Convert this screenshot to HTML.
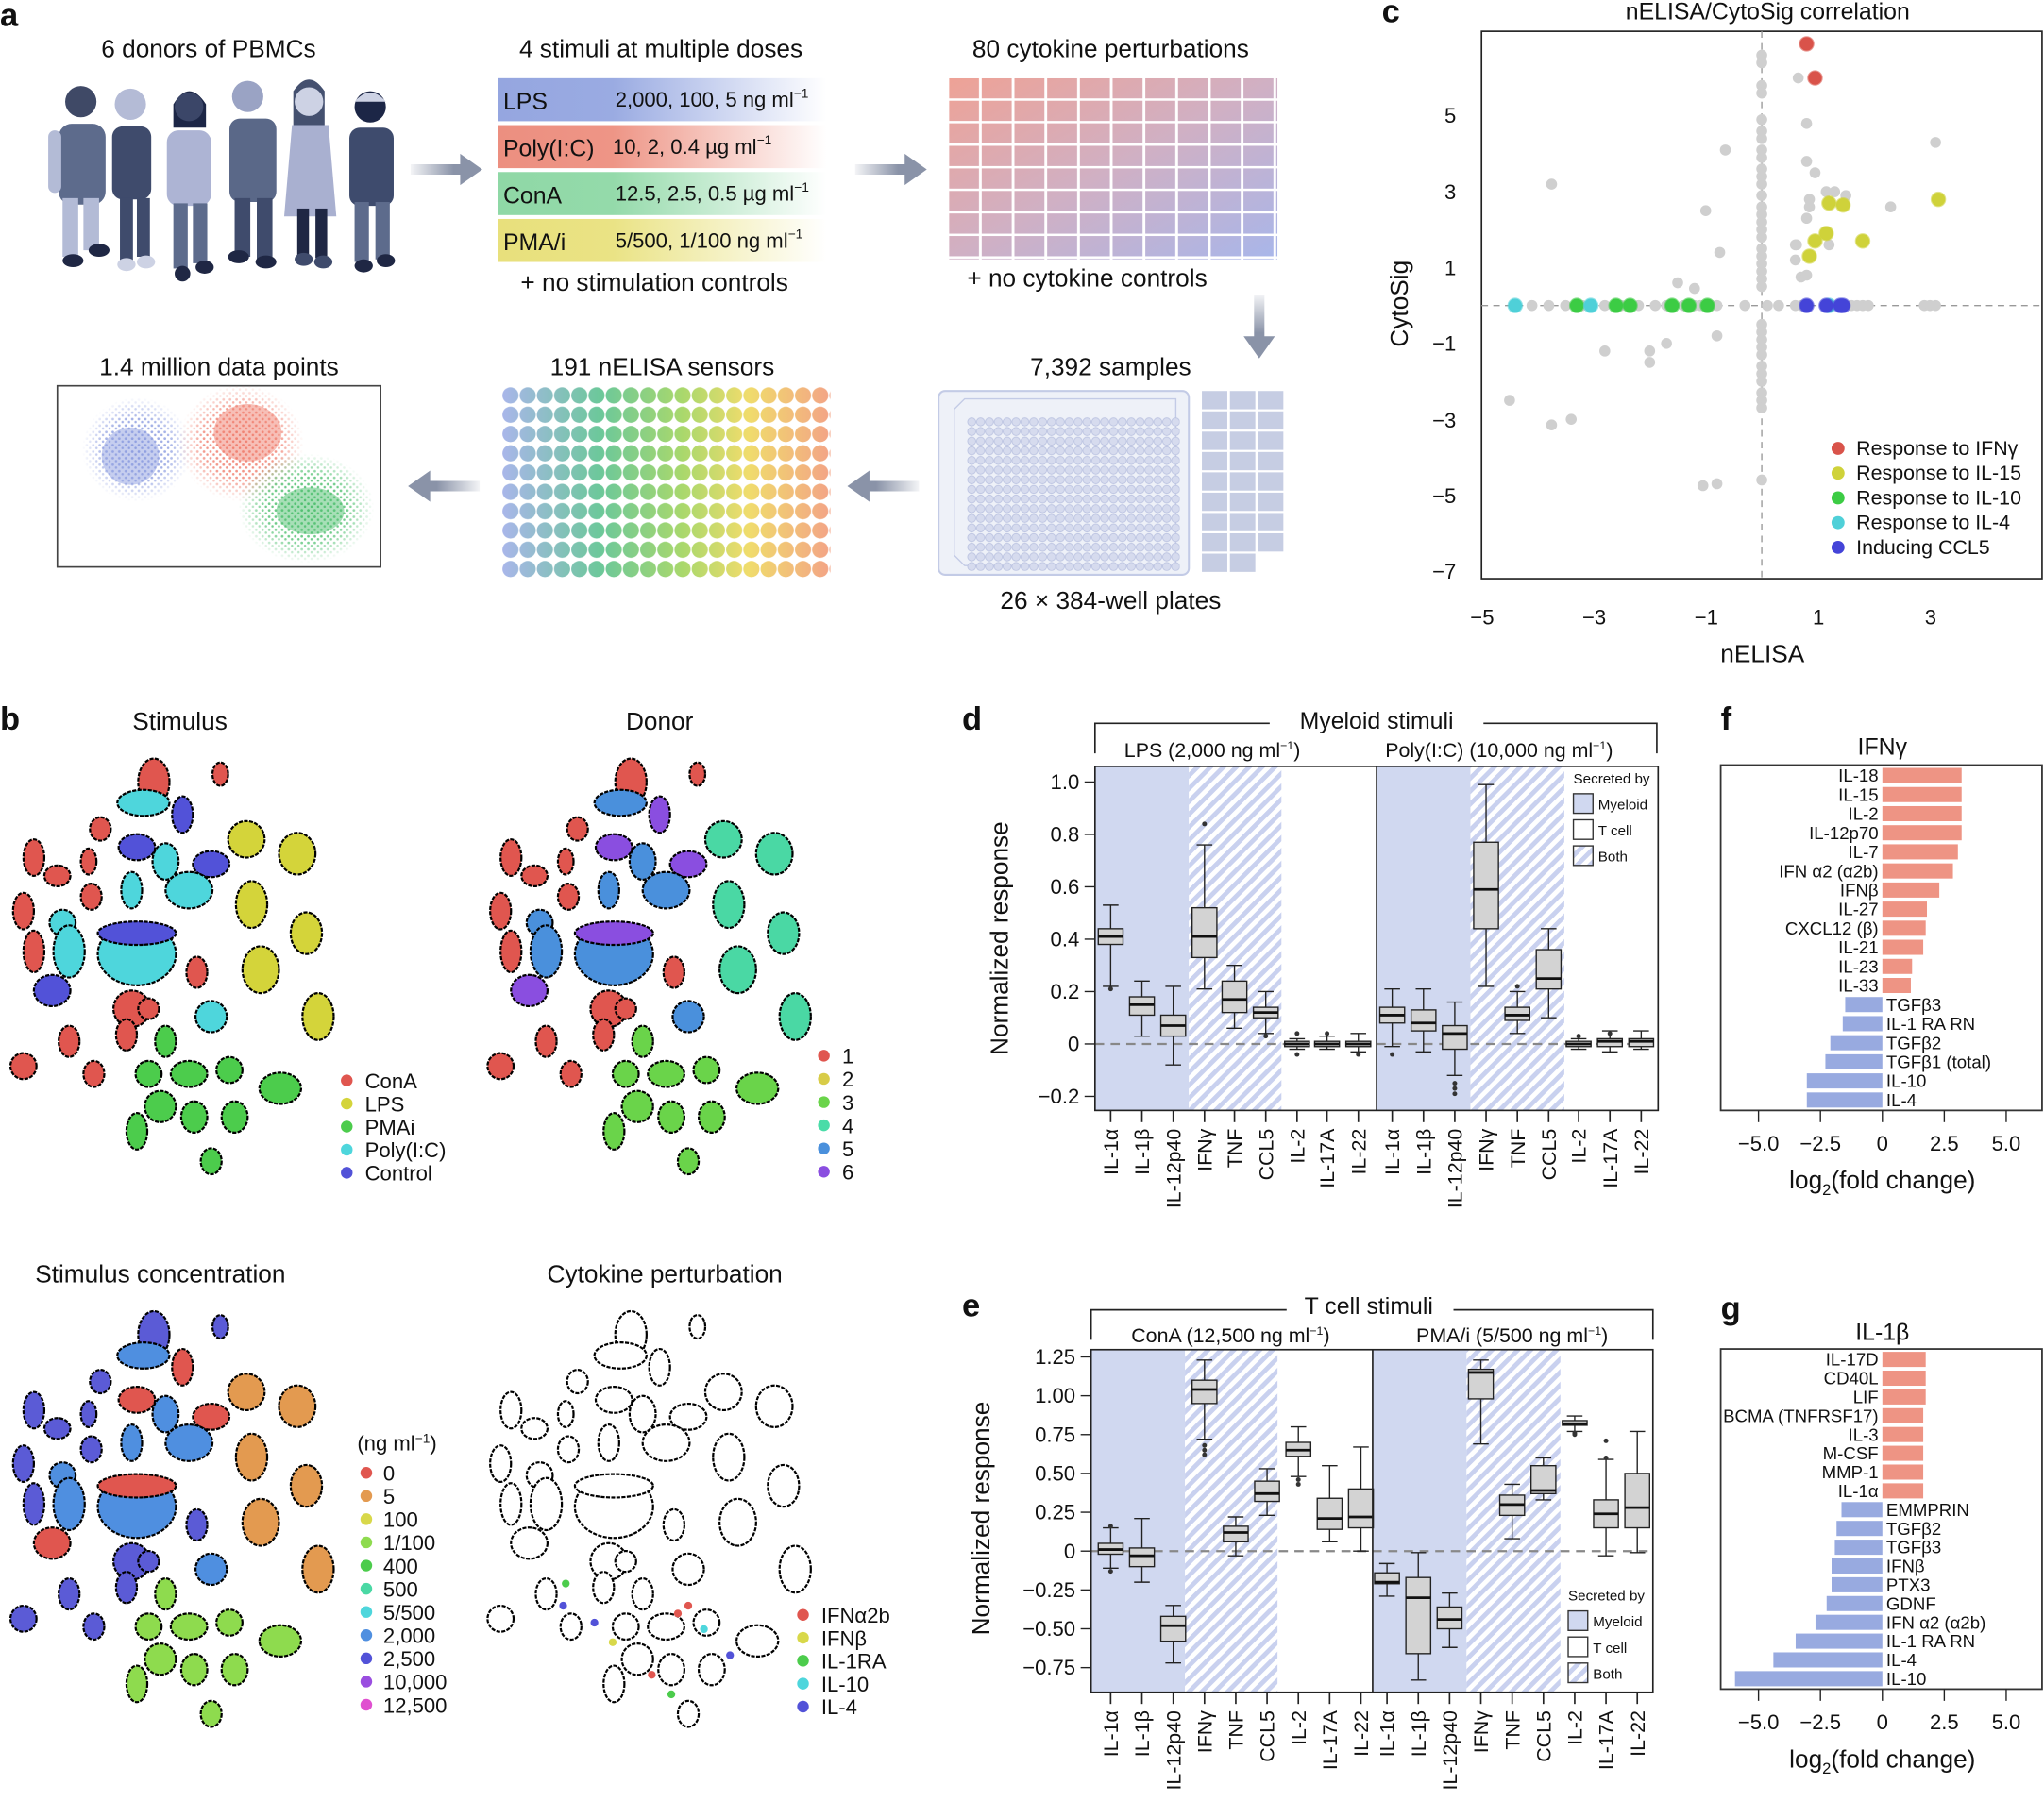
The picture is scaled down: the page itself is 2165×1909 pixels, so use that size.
<!DOCTYPE html>
<html><head><meta charset="utf-8"><style>
html,body{margin:0;padding:0;background:#fff}
svg{display:block}
text{font-family:"Liberation Sans",sans-serif;fill:#111}
</style></head><body>
<svg id="s" width="2165" height="1909" viewBox="0 0 1568 1382.6" preserveAspectRatio="none" xmlns="http://www.w3.org/2000/svg">
<defs>
<pattern id="hatch" patternUnits="userSpaceOnUse" width="7" height="7" patternTransform="rotate(45)">
<rect width="7" height="7" fill="#fff"/><rect width="3.5" height="7" fill="#c9d1ef"/></pattern>
<linearGradient id="gLPS" x1="0" x2="1"><stop offset="0" stop-color="#95a6e0"/><stop offset="0.35" stop-color="#9aabe2"/><stop offset="1" stop-color="#fff"/></linearGradient>
<linearGradient id="gPoly" x1="0" x2="1"><stop offset="0" stop-color="#ec8f80"/><stop offset="0.35" stop-color="#ee9586"/><stop offset="1" stop-color="#fff"/></linearGradient>
<linearGradient id="gCon" x1="0" x2="1"><stop offset="0" stop-color="#8fd8a6"/><stop offset="0.35" stop-color="#94daaa"/><stop offset="1" stop-color="#fff"/></linearGradient>
<linearGradient id="gPMA" x1="0" x2="1"><stop offset="0" stop-color="#e8e07c"/><stop offset="0.35" stop-color="#eae385"/><stop offset="1" stop-color="#fff"/></linearGradient>
<linearGradient id="gCyt" x1="0" y1="0" x2="1" y2="1"><stop offset="0" stop-color="#eea296"/><stop offset="0.5" stop-color="#d0b0c4"/><stop offset="1" stop-color="#a8b6ea"/></linearGradient>
<linearGradient id="gSens" x1="0" x2="1"><stop offset="0" stop-color="#a9b6ea"/><stop offset="0.3" stop-color="#6cc89a"/><stop offset="0.55" stop-color="#a9d86c"/><stop offset="0.75" stop-color="#f0dc6c"/><stop offset="1" stop-color="#f3a486"/></linearGradient>
<linearGradient id="gArrR" x1="0" x2="1"><stop offset="0" stop-color="#8a93a8" stop-opacity="0.1"/><stop offset="0.6" stop-color="#8a93a8"/></linearGradient>
<linearGradient id="gArrL" x1="1" x2="0"><stop offset="0" stop-color="#8a93a8" stop-opacity="0.1"/><stop offset="0.6" stop-color="#8a93a8"/></linearGradient>
<linearGradient id="gArrD" x1="0" y1="0" x2="0" y2="1"><stop offset="0" stop-color="#8a93a8" stop-opacity="0.1"/><stop offset="0.6" stop-color="#8a93a8"/></linearGradient>
<pattern id="pCell" patternUnits="userSpaceOnUse" x="728" y="60" width="25.1" height="17.3"><rect x="0" y="0" width="23" height="15.5" fill="#fff"/></pattern>
<mask id="mCell"><rect x="728" y="60" width="252" height="139" fill="url(#pCell)"/></mask>
<pattern id="pSens" patternUnits="userSpaceOnUse" x="385" y="296" width="13.2" height="14.8"><circle cx="6.6" cy="7.4" r="6.2" fill="#fff"/></pattern>
<mask id="mSens"><rect x="385" y="296" width="252" height="148" fill="url(#pSens)"/></mask>
<pattern id="pWell" patternUnits="userSpaceOnUse" x="742" y="320" width="6.8" height="7.4"><circle cx="3.4" cy="3.7" r="3.1" fill="#d6dbee" stroke="#b9c1e0" stroke-width="0.6"/></pattern>
<pattern id="dB" patternUnits="userSpaceOnUse" width="5" height="5"><circle cx="1.5" cy="1.5" r="1" fill="#8e9ee0"/><circle cx="4" cy="3.8" r="0.9" fill="#8e9ee0"/></pattern>
<pattern id="dR" patternUnits="userSpaceOnUse" width="5" height="5"><circle cx="1.5" cy="1.5" r="1" fill="#f08070"/><circle cx="4" cy="3.8" r="0.9" fill="#f08070"/></pattern>
<pattern id="dG" patternUnits="userSpaceOnUse" width="5" height="5"><circle cx="1.5" cy="1.5" r="1" fill="#50c070"/><circle cx="4" cy="3.8" r="0.9" fill="#50c070"/></pattern>
<radialGradient id="rf"><stop offset="0" stop-color="#fff"/><stop offset="0.6" stop-color="#fff" stop-opacity="0.8"/><stop offset="1" stop-color="#fff" stop-opacity="0"/></radialGradient>
<mask id="mFade" maskContentUnits="objectBoundingBox"><rect width="1" height="1" fill="url(#rf)"/></mask>
<g id="tsne" stroke="#000" stroke-width="1.6" stroke-dasharray="3 1">
<ellipse cx="118" cy="600" rx="12" ry="18" style="fill:var(--R)"/>
<ellipse cx="169" cy="594" rx="6" ry="9" style="fill:var(--R)"/>
<ellipse cx="110" cy="616" rx="20" ry="10" style="fill:var(--C)"/>
<ellipse cx="140" cy="625" rx="8" ry="14" style="fill:var(--B)"/>
<ellipse cx="77" cy="636" rx="8" ry="9" style="fill:var(--R)"/>
<ellipse cx="105" cy="650" rx="14" ry="10" style="fill:var(--B)"/>
<ellipse cx="127" cy="661" rx="10" ry="14" style="fill:var(--C)"/>
<ellipse cx="189" cy="644" rx="14" ry="14" style="fill:var(--Y)"/>
<ellipse cx="228" cy="655" rx="14" ry="16" style="fill:var(--Y)"/>
<ellipse cx="26" cy="658" rx="8" ry="14" style="fill:var(--R)"/>
<ellipse cx="44" cy="672" rx="10" ry="8" style="fill:var(--R)"/>
<ellipse cx="68" cy="661" rx="6" ry="10" style="fill:var(--R)"/>
<ellipse cx="162" cy="663" rx="14" ry="10" style="fill:var(--B)"/>
<ellipse cx="145" cy="683" rx="18" ry="14" style="fill:var(--C)"/>
<ellipse cx="101" cy="683" rx="8" ry="14" style="fill:var(--C)"/>
<ellipse cx="193" cy="694" rx="12" ry="18" style="fill:var(--Y)"/>
<ellipse cx="70" cy="688" rx="8" ry="10" style="fill:var(--R)"/>
<ellipse cx="18" cy="699" rx="8" ry="14" style="fill:var(--R)"/>
<ellipse cx="235" cy="716" rx="12" ry="16" style="fill:var(--Y)"/>
<ellipse cx="48" cy="708" rx="10" ry="10" style="fill:var(--C)"/>
<ellipse cx="53" cy="730" rx="12" ry="20" style="fill:var(--C)"/>
<ellipse cx="105" cy="732" rx="30" ry="24" style="fill:var(--C)"/>
<ellipse cx="105" cy="716" rx="30" ry="9" style="fill:var(--B)"/>
<ellipse cx="26" cy="730" rx="8" ry="16" style="fill:var(--R)"/>
<ellipse cx="151" cy="746" rx="8" ry="12" style="fill:var(--R)"/>
<ellipse cx="200" cy="744" rx="14" ry="18" style="fill:var(--Y)"/>
<ellipse cx="40" cy="760" rx="14" ry="12" style="fill:var(--B)"/>
<ellipse cx="101" cy="774" rx="14" ry="14" style="fill:var(--R)"/>
<ellipse cx="114" cy="774" rx="8" ry="8" style="fill:var(--R)"/>
<ellipse cx="162" cy="780" rx="12" ry="12" style="fill:var(--C)"/>
<ellipse cx="244" cy="780" rx="12" ry="18" style="fill:var(--Y)"/>
<ellipse cx="53" cy="799" rx="8" ry="12" style="fill:var(--R)"/>
<ellipse cx="97" cy="794" rx="8" ry="12" style="fill:var(--R)"/>
<ellipse cx="127" cy="799" rx="8" ry="12" style="fill:var(--G)"/>
<ellipse cx="18" cy="818" rx="10" ry="10" style="fill:var(--R)"/>
<ellipse cx="72" cy="824" rx="8" ry="10" style="fill:var(--R)"/>
<ellipse cx="114" cy="824" rx="10" ry="10" style="fill:var(--G)"/>
<ellipse cx="145" cy="824" rx="14" ry="10" style="fill:var(--G)"/>
<ellipse cx="176" cy="821" rx="10" ry="10" style="fill:var(--G)"/>
<ellipse cx="215" cy="835" rx="16" ry="12" style="fill:var(--G)"/>
<ellipse cx="123" cy="849" rx="12" ry="12" style="fill:var(--G)"/>
<ellipse cx="149" cy="857" rx="10" ry="12" style="fill:var(--G)"/>
<ellipse cx="180" cy="857" rx="10" ry="12" style="fill:var(--G)"/>
<ellipse cx="105" cy="868" rx="8" ry="14" style="fill:var(--G)"/>
<ellipse cx="162" cy="891" rx="8" ry="10" style="fill:var(--G)"/>
</g>
</defs>

<!-- Panel letters -->
<g font-weight="bold" font-size="25"><text x="0" y="20" style="font-weight:bold">a</text><text x="0" y="560" style="font-weight:bold">b</text><text x="1060" y="17" style="font-weight:bold">c</text><text x="738" y="560" style="font-weight:bold">d</text><text x="738" y="1010" style="font-weight:bold">e</text><text x="1320" y="560" style="font-weight:bold">f</text><text x="1320" y="1012" style="font-weight:bold">g</text></g>

<!-- Panel a -->
<g font-size="19" text-anchor="middle">
<text x="160" y="44">6 donors of PBMCs</text>
<text x="507" y="44">4 stimuli at multiple doses</text>
<text x="852" y="44">80 cytokine perturbations</text>
<text x="502" y="223">+ no stimulation controls</text>
<text x="834" y="220">+ no cytokine controls</text>
<text x="852" y="288">7,392 samples</text>
<text x="508" y="288">191 nELISA sensors</text>
<text x="168" y="288">1.4 million data points</text>
<text x="852" y="467">26 × 384-well plates</text>
</g>
<!-- people -->
<g>
<g fill="#5d6b8c"><circle cx="62" cy="78" r="12" fill="#3f4966"/><rect x="45" y="95" width="36" height="62" rx="10"/><rect x="37" y="100" width="10" height="48" rx="5" fill="#b3bbd6"/><rect x="48" y="152" width="12" height="45" fill="#b3bbd6"/><rect x="64" y="152" width="12" height="40" fill="#b3bbd6"/><ellipse cx="56" cy="200" rx="8" ry="5" fill="#1f2744"/><ellipse cx="76" cy="192" rx="8" ry="5" fill="#1f2744"/></g>
<g fill="#3f4b6c"><circle cx="100" cy="80" r="12" fill="#b4bbd6"/><rect x="86" y="97" width="30" height="56" rx="8"/><rect x="92" y="152" width="10" height="48"/><rect x="105" y="152" width="10" height="45" fill="#3f4b6c"/><ellipse cx="97" cy="203" rx="7" ry="5" fill="#cdd2e4"/><ellipse cx="112" cy="201" rx="7" ry="5" fill="#cdd2e4"/></g>
<g fill="#adb4d4"><path d="M133 80 q12 -20 25 0 v18 h-25z" fill="#1c2646"/><circle cx="145" cy="82" r="11" fill="#3b4668"/><rect x="128" y="100" width="34" height="58" rx="9"/><rect x="133" y="156" width="11" height="50" fill="#5d6b8c"/><rect x="148" y="156" width="11" height="46" fill="#5d6b8c"/><ellipse cx="140" cy="210" rx="6" ry="6" fill="#1f2744"/><ellipse cx="157" cy="205" rx="7" ry="5" fill="#1f2744"/></g>
<g fill="#5a6888"><circle cx="190" cy="74" r="12" fill="#9aa3c4"/><rect x="176" y="91" width="36" height="64" rx="8"/><rect x="180" y="152" width="12" height="45" fill="#3f4b6c"/><rect x="197" y="152" width="12" height="48" fill="#3f4b6c"/><ellipse cx="183" cy="197" rx="8" ry="5" fill="#1f2744"/><ellipse cx="204" cy="201" rx="8" ry="5" fill="#1f2744"/></g>
<g fill="#a9b0d0"><path d="M225 70 q12 -18 24 0 v38 h-24z" fill="#44506f"/><circle cx="237" cy="78" r="11" fill="#cdd2e4"/><path d="M224 96 h28 l6 70 h-40z"/><rect x="228" y="160" width="9" height="38" fill="#1f2744"/><rect x="242" y="160" width="9" height="38" fill="#1f2744"/><ellipse cx="233" cy="199" rx="7" ry="5" fill="#3f4b6c"/><ellipse cx="248" cy="201" rx="7" ry="5" fill="#3f4b6c"/></g>
<g fill="#3e4b6d"><circle cx="284" cy="82" r="12" fill="#1c2646"/><path d="M272 78 q12 -14 24 0" fill="#cdd2e4"/><rect x="268" y="98" width="34" height="60" rx="8"/><rect x="272" y="155" width="11" height="46" fill="#5d6b8c"/><rect x="288" y="155" width="11" height="44" fill="#5d6b8c"/><ellipse cx="279" cy="204" rx="7" ry="5" fill="#1f2744"/><ellipse cx="296" cy="200" rx="7" ry="5" fill="#1f2744"/></g>
</g>
<!-- arrows -->
<path d="M315 126 h38 v-8 l17 12 l-17 12 v-8 h-38z" fill="url(#gArrR)"/>
<path d="M656 126 h38 v-8 l17 12 l-17 12 v-8 h-38z" fill="url(#gArrR)"/>
<path d="M962 226 v32 h-8 l12 17 l12 -17 h-8 v-32z" fill="url(#gArrD)"/>
<path d="M705 369 h-38 v-8 l-17 12 l17 12 v-8 h38z" fill="url(#gArrL)"/>
<path d="M368 369 h-38 v-8 l-17 12 l17 12 v-8 h38z" fill="url(#gArrL)"/>
<!-- stimuli bars -->
<rect x="382" y="60" width="252" height="33" fill="url(#gLPS)"/>
<rect x="382" y="96" width="252" height="33" fill="url(#gPoly)"/>
<rect x="382" y="132" width="252" height="33" fill="url(#gCon)"/>
<rect x="382" y="168" width="252" height="33" fill="url(#gPMA)"/>
<g font-size="18"><text x="386" y="84">LPS</text><text x="386" y="120">Poly(I:C)</text><text x="386" y="156">ConA</text><text x="386" y="192">PMA/i</text></g>
<g font-size="16"><text x="472" y="82">2,000, 100, 5 ng ml<tspan font-size="10" dy="-7">−1</tspan></text><text x="470" y="118">10, 2, 0.4 µg ml<tspan font-size="10" dy="-7">−1</tspan></text><text x="472" y="154">12.5, 2.5, 0.5 µg ml<tspan font-size="10" dy="-7">−1</tspan></text><text x="472" y="190">5/500, 1/100 ng ml<tspan font-size="10" dy="-7">−1</tspan></text></g>
<!-- cytokine grid -->
<rect x="728" y="60" width="252" height="139" fill="url(#gCyt)" mask="url(#mCell)"/>
<!-- sensors -->
<rect x="385" y="296" width="252" height="148" fill="url(#gSens)" mask="url(#mSens)"/>
<!-- plate -->
<rect x="720" y="300" width="192" height="141" rx="5" fill="#eef1f8" stroke="#c3cbe6" stroke-width="1.5"/>
<path d="M740 306 h162 v128 h-162 l-8 -8 v-112z" fill="none" stroke="#c3cbe6"/>
<rect x="742" y="320" width="163" height="118" fill="url(#pWell)"/>
<g fill="#c6cde3" id="stack"></g>
<!-- scatter box -->
<rect x="44" y="296" width="248" height="139" fill="#fff" stroke="#444" stroke-width="1.2"/>
<ellipse cx="105" cy="345" rx="42" ry="40" fill="url(#dB)" mask="url(#mFade)"/>
<ellipse cx="185" cy="340" rx="48" ry="45" fill="url(#dR)" mask="url(#mFade)"/>
<ellipse cx="235" cy="390" rx="52" ry="42" fill="url(#dG)" mask="url(#mFade)"/>
<ellipse cx="100" cy="350" rx="22" ry="22" fill="#8e9ee0" opacity="0.5"/>
<ellipse cx="190" cy="332" rx="26" ry="22" fill="#f08070" opacity="0.5"/>
<ellipse cx="238" cy="392" rx="26" ry="18" fill="#50c070" opacity="0.5"/>

<!-- Panel b -->
<g font-size="19" text-anchor="middle"><text x="138" y="560">Stimulus</text><text x="506" y="560">Donor</text><text x="123" y="984">Stimulus concentration</text><text x="510" y="984">Cytokine perturbation</text></g>
<use href="#tsne" style="--R:#e0564f;--Y:#d4d43a;--G:#4ccc4c;--C:#4ed6dc;--B:#5252d8"/>
<use href="#tsne" transform="translate(366,0)" style="--R:#e0564f;--Y:#4ad8a4;--G:#6ad44a;--C:#4a90dc;--B:#8a4ee0"/>
<use href="#tsne" transform="translate(0,424)" style="--R:#5b5bd6;--Y:#e39a50;--G:#8edb4e;--C:#4f8fe0;--B:#e0564f"/>
<use href="#tsne" transform="translate(366,424)" style="--R:#fff;--Y:#fff;--G:#fff;--C:#fff;--B:#fff"/>
<g font-size="16">
<g id="legS"></g>
<text x="274" y="1113">(ng ml<tspan font-size="10" dy="-6">−1</tspan><tspan dy="6">)</tspan></text>
</g>

<!-- Panel c -->
<text x="1356" y="15" font-size="18" text-anchor="middle">nELISA/CytoSig correlation</text>
<rect x="1136.5" y="24" width="430" height="420" fill="none" stroke="#222" stroke-width="1.2"/>
<line x1="1351.5" y1="24" x2="1351.5" y2="444" stroke="#999" stroke-dasharray="5 4"/>
<line x1="1136.5" y1="234.4" x2="1566" y2="234.4" stroke="#999" stroke-dasharray="5 4"/>
<g id="cpts"></g>
<g font-size="16" text-anchor="end"><text x="1117" y="94">5</text><text x="1117" y="153">3</text><text x="1117" y="211">1</text><text x="1117" y="269">−1</text><text x="1117" y="328">−3</text><text x="1117" y="386">−5</text><text x="1117" y="444">−7</text></g>
<g font-size="16" text-anchor="middle"><text x="1137" y="479">−5</text><text x="1223" y="479">−3</text><text x="1309" y="479">−1</text><text x="1395" y="479">1</text><text x="1481" y="479">3</text></g>
<text x="1352" y="508" font-size="19" text-anchor="middle">nELISA</text>
<text transform="translate(1080,233) rotate(-90)" font-size="19" text-anchor="middle">CytoSig</text>
<g font-size="15.5"><text x="1424" y="349">Response to IFNγ</text><text x="1424" y="368">Response to IL-15</text><text x="1424" y="387">Response to IL-10</text><text x="1424" y="406">Response to IL-4</text><text x="1424" y="425">Inducing CCL5</text></g>
<g><circle cx="1410" cy="344" r="5" fill="#d9534a"/><circle cx="1410" cy="363" r="5" fill="#cfd23a"/><circle cx="1410" cy="382" r="5" fill="#3ccc44"/><circle cx="1410" cy="401" r="5" fill="#4fd0d8"/><circle cx="1410" cy="420" r="5" fill="#4444d8"/></g>

<!-- Panel d -->
<g id="pd"></g>
<g font-size="18" text-anchor="middle"><text x="1056" y="559">Myeloid stimuli</text></g>
<path d="M840 578 v-23 h134 M1138 555 h133 v23" fill="none" stroke="#222" stroke-width="1.2"/>
<g font-size="15.5" text-anchor="middle"><text x="930" y="581">LPS (2,000 ng ml<tspan font-size="9" dy="-6">−1</tspan><tspan dy="6">)</tspan></text><text x="1150" y="581">Poly(I:C) (10,000 ng ml<tspan font-size="9" dy="-6">−1</tspan><tspan dy="6">)</tspan></text></g>
<text transform="translate(773,720) rotate(-90)" font-size="19" text-anchor="middle">Normalized response</text>
<!-- Panel e -->
<g id="pe"></g>
<g font-size="18" text-anchor="middle"><text x="1050" y="1008">T cell stimuli</text></g>
<path d="M837 1028 v-23 h150 M1115 1005 h153 v23" fill="none" stroke="#222" stroke-width="1.2"/>
<g font-size="15.5" text-anchor="middle"><text x="944" y="1030">ConA (12,500 ng ml<tspan font-size="9" dy="-6">−1</tspan><tspan dy="6">)</tspan></text><text x="1160" y="1030">PMA/i (5/500 ng ml<tspan font-size="9" dy="-6">−1</tspan><tspan dy="6">)</tspan></text></g>
<text transform="translate(759,1165) rotate(-90)" font-size="19" text-anchor="middle">Normalized response</text>

<!-- Panel f, g -->
<text x="1444" y="579" font-size="18" text-anchor="middle">IFNγ</text>
<text x="1444" y="1028" font-size="18" text-anchor="middle">IL-1β</text>
<g id="pf"></g>
</svg>
<script>
const S=document.getElementById('s'),NS='http://www.w3.org/2000/svg';
function el(t,a,p,txt){const e=document.createElementNS(NS,t);for(const k in a)e.setAttribute(k,a[k]);if(txt!==undefined)e.textContent=txt;(p||S).appendChild(e);return e;}
// stacked plates
const st=document.getElementById('stack');
for(let c=0;c<3;c++)for(let r=0;r<9;r++){if(c==2&&r==8)continue;el('rect',{x:922+c*21.5,y:300+r*15.6,width:19.5,height:14},st);}
// legends b
const lg=document.getElementById('legS');
[['ConA','#e0564f'],['LPS','#d4d43a'],['PMAi','#4ccc4c'],['Poly(I:C)','#4ed6dc'],['Control','#5252d8']].forEach((d,i)=>{el('circle',{cx:266,cy:829+i*17.7,r:4.5,fill:d[1]},lg);el('text',{x:280,y:835+i*17.7},lg,d[0]);});
['#e0564f','#d8cc48','#6ad44a','#4adca8','#4a90dc','#8a4ee0'].forEach((c,i)=>{el('circle',{cx:632,cy:810+i*17.8,r:4.5,fill:c},lg);el('text',{x:646,y:816+i*17.8},lg,String(i+1));});
[['0','#e0564f'],['5','#e39a50'],['100','#d8d84a'],['1/100','#8edb4e'],['400','#4ccc4c'],['500','#4ad8a4'],['5/500','#4ed6dc'],['2,000','#4f8fe0'],['2,500','#5252d8'],['10,000','#9a4ee0'],['12,500','#e050d0']].forEach((d,i)=>{el('circle',{cx:281,cy:1130+i*17.8,r:4.5,fill:d[1]},lg);el('text',{x:294,y:1136+i*17.8},lg,d[0]);});
[['IFNα2b','#e0564f'],['IFNβ','#d8d84a'],['IL-1RA','#4ccc4c'],['IL-10','#4ed6dc'],['IL-4','#5252d8']].forEach((d,i)=>{el('circle',{cx:616,cy:1239+i*17.6,r:4.5,fill:d[1]},lg);el('text',{x:630,y:1245+i*17.6},lg,d[0]);});
// perturbation specks
const sp=[[434,1215,'#4ccc4c'],[456,1245,'#5252d8'],[520,1238,'#e0564f'],[528,1232,'#e0564f'],[540,1250,'#4ed6dc'],[432,1232,'#5252d8'],[560,1270,'#5252d8'],[500,1285,'#e0564f'],[470,1260,'#d8d84a'],[515,1300,'#4ccc4c']];
sp.forEach(p=>el('circle',{cx:p[0],cy:p[1],r:3,fill:p[2]}));
// panel c points
const cp=document.getElementById('cpts');
const X=v=>1351.5+v*43,Y=v=>234.4-v*29.1;
const gr=[];
[6.6,6.4,5.8,5.6,4.9,4.6,4.4,4.1,3.9,3.6,3.4,3.2,2.9,2.6,2.4,2.2,2,1.8,1.5,1.3,1.1,0.9,0.7,0.5,-0.5,-0.7,-0.9,-1.1,-1.3,-1.6,-1.8,-2,-2.3,-2.5,-2.7,-4.6].forEach(v=>gr.push([0,v]));
[-4.1,-3.8,-3.5,-3.2,-2.8,-2.5,-2.2,-1.9,-1.7,-1.4,-1.2,-1.1,-1,-0.9,-0.8,-0.3,0.1,0.3,0.6,0.7,1.6,1.7,1.8,1.9,2.9,3.0,3.1].forEach(v=>gr.push([v,0]));
[[-3.75,3.2],[-1,2.5],[-0.75,1.4],[-1.5,0.6],[-1.2,0.45],[-0.65,4.1],[-2.8,-1.2],[-2,-1.2],[-2,-1.5],[-1.7,-1],[-0.8,-0.8],[-4.5,-2.5],[-3.75,-3.15],[-3.4,-3],[-1.05,-4.75],[-0.8,-4.7],[0.65,6],[0.8,4.8],[0.8,3.8],[0.95,3.5],[0.85,2.8],[0.85,2.6],[0.8,2.3],[0.6,1.6],[0.62,1.6],[0.6,1.2],[0.7,0.75],[0.8,0.8],[1.2,1.6],[1.3,3],[1.5,2.9],[2.3,2.6],[3.1,4.3],[1.15,3]].forEach(p=>gr.push(p));
gr.forEach(p=>el('circle',{cx:X(p[0]),cy:Y(p[1]),r:4.2,fill:'#cfcfcf'},cp));
const col=[['#d9534a',[[0.8,6.9],[0.95,6.0]]],['#cfd23a',[[1.2,2.7],[1.45,2.65],[1.15,1.9],[0.95,1.7],[0.85,1.3],[1.8,1.7],[3.15,2.8]]],['#3ccc44',[[-3.3,0],[-2.6,0],[-2.35,0],[-1.6,0],[-1.3,0],[-0.97,0]]],['#4fd0d8',[[-4.4,0],[-3.05,0],[1.2,0]]],['#4444d8',[[0.8,0],[1.15,0],[1.4,0],[1.45,0]]]];
col.forEach(c=>c[1].forEach(p=>el('circle',{cx:X(p[0]),cy:Y(p[1]),r:5.2,fill:c[0],stroke:c[0],'stroke-opacity':0.6,'stroke-width':1.5},cp)));
// box plot panels
const cats=['IL-1α','IL-1β','IL-12p40','IFNγ','TNF','CCL5','IL-2','IL-17A','IL-22'];
function panel(g,L,R,T,B,div,bands,Yf,ticks,fmt,xs,data,legY){
 el('rect',{x:bands[0],y:T,width:bands[1]-bands[0],height:B-T,fill:'#d0d8f0'},g);
 el('rect',{x:bands[1],y:T,width:bands[2]-bands[1],height:B-T,fill:'url(#hatch)'},g);
 el('rect',{x:bands[3],y:T,width:bands[4]-bands[3],height:B-T,fill:'#d0d8f0'},g);
 el('rect',{x:bands[4],y:T,width:bands[5]-bands[4],height:B-T,fill:'url(#hatch)'},g);
 el('line',{x1:L,x2:R,y1:Yf(0),y2:Yf(0),stroke:'#888','stroke-width':1.6,'stroke-dasharray':'7 5'},g);
 data.forEach((d,i)=>{const x=xs[i],w=19;
  el('line',{x1:x,x2:x,y1:Yf(d[0]),y2:Yf(d[4]),stroke:'#222','stroke-width':1},g);
  el('line',{x1:x-6,x2:x+6,y1:Yf(d[0]),y2:Yf(d[0]),stroke:'#222','stroke-width':1},g);
  el('line',{x1:x-6,x2:x+6,y1:Yf(d[4]),y2:Yf(d[4]),stroke:'#222','stroke-width':1},g);
  el('rect',{x:x-w/2,y:Yf(d[3]),width:w,height:Math.max(2,Yf(d[1])-Yf(d[3])),fill:'#d3d3d3',stroke:'#222','stroke-width':1},g);
  el('line',{x1:x-w/2,x2:x+w/2,y1:Yf(d[2]),y2:Yf(d[2]),stroke:'#111','stroke-width':2},g);
  (d[5]||[]).forEach(o=>el('circle',{cx:x,cy:Yf(o),r:1.8,fill:'#333'},g));
  el('line',{x1:x,x2:x,y1:B,y2:B+9,stroke:'#222','stroke-width':1.2},g);
  el('text',{transform:`translate(${x+5.5},${B+14}) rotate(-90)`,'font-size':15.5,'text-anchor':'end'},g,cats[i%9]);
 });
 el('rect',{x:L,y:T,width:R-L,height:B-T,fill:'none',stroke:'#222','stroke-width':1.2},g);
 el('line',{x1:div,x2:div,y1:T,y2:B,stroke:'#222','stroke-width':1.2},g);
 ticks.forEach(t=>{el('line',{x1:L-8,x2:L,y1:Yf(t),y2:Yf(t),stroke:'#222'},g);el('text',{x:L-12,y:Yf(t)+5.5,'font-size':16,'text-anchor':'end'},g,fmt(t));});
 el('text',{x:R-65,y:legY,'font-size':11},g,'Secreted by');
 [['Myeloid','#d0d8f0'],['T cell','#fff'],['Both','url(#hatch)']].forEach((s,i)=>{el('rect',{x:R-65,y:legY+8+i*20,width:15,height:15,fill:s[1],stroke:'#333'},g);el('text',{x:R-46,y:legY+20+i*20,'font-size':11},g,s[0]);});
}
const fm=t=>t==0?'0':(t<0?'−':'')+Math.abs(t).toFixed(1);
const fm2=t=>t==0?'0':(t<0?'−':'')+Math.abs(t).toFixed(2);
const xd=[852,876,900,924,947,971,995,1018,1042,1068,1092,1116,1140,1164,1188,1211,1235,1259];
const dd=[[.22,.38,.41,.44,.53,[.21]],[.03,.11,.15,.18,.24],[-.08,.03,.07,.11,.22],[.21,.33,.41,.52,.76,[.84]],[.06,.12,.17,.24,.3],[.04,.1,.12,.14,.2,[.03]],[-.02,-.01,0,.01,.02,[.04,-.04]],[-.02,-.01,0,.01,.03,[.04]],[-.03,-.01,0,.01,.04,[-.04]],
[-.01,.08,.11,.14,.21,[-.04]],[-.03,.05,.08,.13,.21],[-.12,-.02,.04,.07,.16,[-.15,-.17,-.19]],[.22,.44,.59,.77,.99],[.04,.09,.11,.14,.2,[.22]],[.1,.21,.25,.36,.44],[-.02,-.01,0,.01,.02,[.03]],[-.03,-.01,.01,.02,.05,[.04]],[-.02,-.01,.01,.02,.05]];
panel(document.getElementById('pd'),840,1272,588,852,1056,[840,912,983,1056,1128,1200],v=>801-201*v,[1,.8,.6,.4,.2,0,-.2],fm,xd,dd,601);
const xe=[852,876,900,924,948,972,996,1020,1044,1064,1088,1112,1136,1160,1184,1208,1232,1256];
const ed=[[-.11,-.02,.01,.05,.15,[.16,-.13]],[-.2,-.1,-.03,.02,.21],[-.72,-.58,-.48,-.42,-.35],[.72,.95,1.04,1.1,1.23,[.62,.65,.68]],[-.03,.06,.12,.16,.22],[.23,.32,.37,.45,.53],[.48,.61,.65,.7,.8,[.43,.46]],[.06,.14,.21,.34,.55],[0,.15,.22,.4,.67],
[-.29,-.21,-.2,-.14,-.08],[-.83,-.66,-.3,-.17,-.01],[-.62,-.5,-.44,-.36,-.27],[.69,.98,1.15,1.17,1.23],[.08,.23,.3,.36,.43],[.33,.37,.39,.55,.6],[.77,.81,.82,.84,.87,[.75,.76]],[-.03,.15,.24,.33,.59,[.6,.71]],[-.01,.15,.28,.5,.77]];
panel(document.getElementById('pe'),837,1268,1035.5,1298.4,1053,[837,909,980,1053,1125,1197],v=>1190.1-119.2*v,[1.25,1,.75,.5,.25,0,-.25,-.5,-.75],fm2,xe,ed,1228);
// bar panels
const pf=document.getElementById('pf');
function bars(T,B,rows){
 const X=v=>1444+19*v, n=rows.length, y0=T+8, dy=(B-T-16)/(n-1);
 el('rect',{x:1320,y:T,width:246.5,height:B-T,fill:'none',stroke:'#333','stroke-width':1.3},pf);
 rows.forEach((r,i)=>{const y=y0+i*dy,v=r[1];
  el('rect',{x:Math.min(X(0),X(v)),y:y-5.8,width:Math.abs(19*v),height:11.6,fill:v>0?'#ee9484':'#98aae0'},pf);
  el('text',{x:v>0?1441:1447,y:y+4.8,'font-size':13.5,'text-anchor':v>0?'end':'start'},pf,r[0]);});
 [-5,-2.5,0,2.5,5].forEach(t=>{el('line',{x1:X(t),x2:X(t),y1:B,y2:B+9,stroke:'#222'},pf);el('text',{x:X(t),y:B+31,'font-size':16,'text-anchor':'middle'},pf,t==0?'0':(t<0?'−':'')+Math.abs(t).toFixed(1));});
 const t=el('text',{x:1444,y:B+60,'font-size':19,'text-anchor':'middle'},pf);
 t.innerHTML='log<tspan font-size="12" dy="5">2</tspan><tspan dy="-5">(fold change)</tspan>';
}
bars(587,852,[['IL-18',3.2],['IL-15',3.2],['IL-2',3.2],['IL-12p70',3.2],['IL-7',3.05],['IFN α2 (α2b)',2.85],['IFNβ',2.3],['IL-27',1.8],['CXCL12 (β)',1.75],['IL-21',1.65],['IL-23',1.2],['IL-33',1.15],['TGFβ3',-1.5],['IL-1 RA RN',-1.6],['TGFβ2',-2.1],['TGFβ1 (total)',-2.3],['IL-10',-3.05],['IL-4',-3.05]]);
bars(1035,1296,[['IL-17D',1.75],['CD40L',1.75],['LIF',1.75],['BCMA (TNFRSF17)',1.65],['IL-3',1.65],['M-CSF',1.65],['MMP-1',1.65],['IL-1α',1.65],['EMMPRIN',-1.65],['TGFβ2',-1.85],['TGFβ3',-1.92],['IFNβ',-2.05],['PTX3',-2.05],['GDNF',-2.25],['IFN α2 (α2b)',-2.7],['IL-1 RA RN',-3.5],['IL-4',-4.4],['IL-10',-5.95]]);
</script>
</body></html>
